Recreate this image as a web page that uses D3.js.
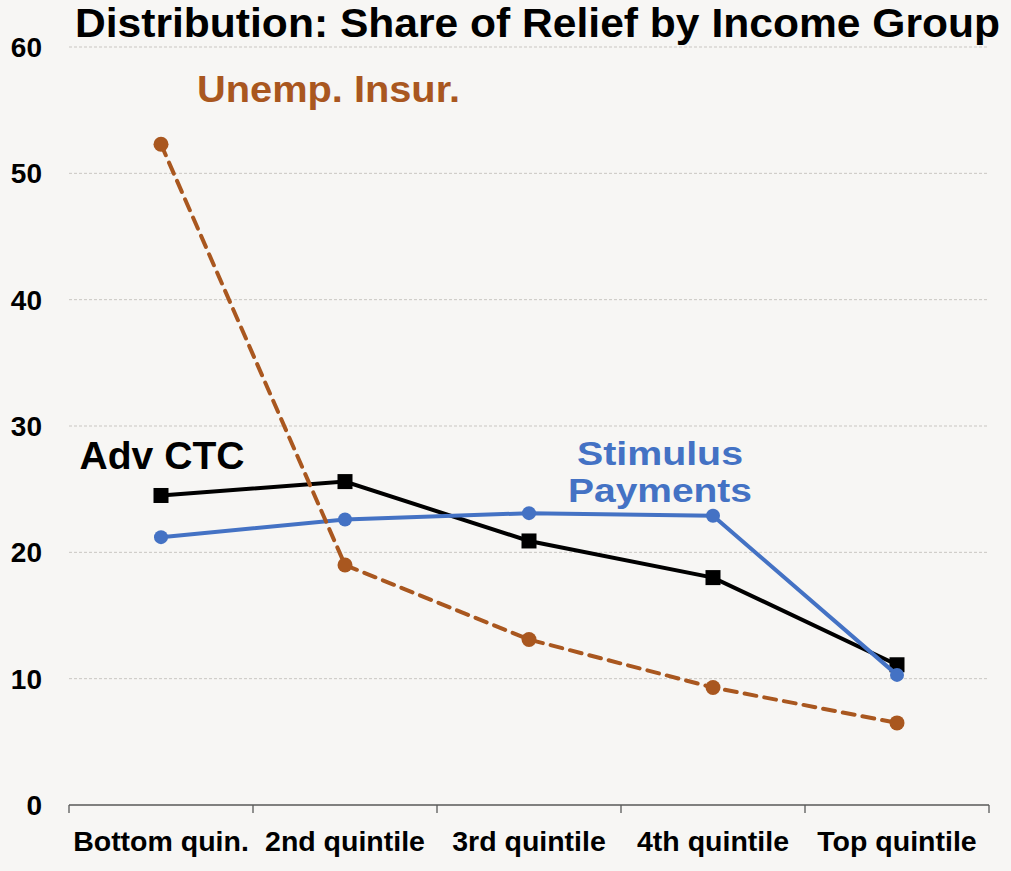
<!DOCTYPE html>
<html><head><meta charset="utf-8">
<script src="https://cdn.jsdelivr.net/npm/d3@7"></script>
<style>body{margin:0;background:#f7f6f4;}svg{display:block;font-family:"Liberation Sans",Arial,sans-serif;font-weight:bold;}</style>
</head><body><svg id="c" width="1011" height="871"></svg>
<script>
const categories = ["Bottom quin.", "2nd quintile", "3rd quintile", "4th quintile", "Top quintile"];
const advCTC = [24.5, 25.6, 20.9, 18.0, 11.1];
const stimulus = [21.2, 22.6, 23.1, 22.9, 10.3];
const unempInsur = [52.3, 19.0, 13.1, 9.3, 6.5];
const yTicks = [0, 10, 20, 30, 40, 50, 60];

const svg = d3.select("#c");
svg.append("rect").attr("width",1011).attr("height",871).attr("fill","#f7f6f4");
const x = d3.scaleBand().domain(categories).range([69, 989]);
const y = d3.scaleLinear().domain([0, 60]).range([805, 47]);
const cx = d => x(d) + x.bandwidth()/2;

// gridlines
svg.append("g").selectAll("line").data(yTicks.filter(t=>t>0)).join("line")
  .attr("x1",69).attr("x2",989).attr("y1",d=>y(d)).attr("y2",d=>y(d))
  .attr("stroke","#c9c6c2").attr("stroke-width",1).attr("stroke-dasharray","3,2");

// y labels
svg.append("g").selectAll("text").data(yTicks).join("text")
  .attr("x",42).attr("y",d=>y(d)+10).attr("text-anchor","end")
  .attr("font-size",28).attr("fill","#000").text(d=>d);

// x axis
const xAxis = d3.axisBottom(x).tickSize(0).tickPadding(0).tickFormat("");
const gx = svg.append("g").attr("transform","translate(0,805)").call(xAxis);
gx.select(".domain").attr("stroke","#595959").attr("stroke-width",1.3).attr("d","M69,0H989");
const bounds = x.domain().map(d=>x(d)).concat([989]);
svg.append("g").selectAll("line").data(bounds).join("line")
  .attr("x1",d=>d).attr("x2",d=>d).attr("y1",805).attr("y2",813)
  .attr("stroke","#595959").attr("stroke-width",1.3);
svg.append("g").selectAll("text").data(categories).join("text")
  .attr("x",d=>cx(d)).attr("y",851).attr("text-anchor","middle")
  .attr("font-size",28.5).attr("fill","#000").text(d=>d);

const line = d3.line().x((d,i)=>cx(categories[i])).y(d=>y(d));

// Adv CTC
svg.append("path").datum(advCTC).attr("d",line).attr("fill","none").attr("stroke","#000").attr("stroke-width",4);
svg.append("g").selectAll("rect").data(advCTC).join("rect")
  .attr("x",(d,i)=>cx(categories[i])-7.5).attr("y",d=>y(d)-7.5).attr("width",15).attr("height",15).attr("fill","#000");

// Stimulus
svg.append("path").datum(stimulus).attr("d",line).attr("fill","none").attr("stroke","#4472c4").attr("stroke-width",4);
svg.append("g").selectAll("circle").data(stimulus).join("circle")
  .attr("cx",(d,i)=>cx(categories[i])).attr("cy",d=>y(d)).attr("r",7).attr("fill","#4472c4");

// Unemp
svg.append("path").datum(unempInsur).attr("d",line).attr("fill","none").attr("stroke","#a9571f")
  .attr("stroke-width",4).attr("stroke-dasharray","12,8").attr("stroke-linecap","round");
svg.append("g").selectAll("circle").data(unempInsur).join("circle")
  .attr("cx",(d,i)=>cx(categories[i])).attr("cy",d=>y(d)).attr("r",7.5).attr("fill","#a9571f");

// labels
svg.append("text").attr("x",537.5).attr("y",37).attr("text-anchor","middle").attr("font-size",40).attr("fill","#000")
  .attr("textLength",925).attr("lengthAdjust","spacingAndGlyphs")
  .text("Distribution: Share of Relief by Income Group");
svg.append("text").attr("x",328.5).attr("y",102).attr("text-anchor","middle").attr("font-size",37).attr("fill","#a9571f")
  .attr("textLength",263).attr("lengthAdjust","spacingAndGlyphs").text("Unemp. Insur.");
svg.append("text").attr("x",162).attr("y",469).attr("text-anchor","middle").attr("font-size",38).attr("fill","#000")
  .attr("textLength",165).attr("lengthAdjust","spacingAndGlyphs").text("Adv CTC");
const st = svg.append("g").attr("font-size",34).attr("fill","#4472c4");
st.append("text").attr("text-anchor","middle").attr("x",660).attr("y",465)
  .attr("textLength",166).attr("lengthAdjust","spacingAndGlyphs").text("Stimulus");
st.append("text").attr("text-anchor","middle").attr("x",660).attr("y",502)
  .attr("textLength",184).attr("lengthAdjust","spacingAndGlyphs").text("Payments");
</script></body></html>
